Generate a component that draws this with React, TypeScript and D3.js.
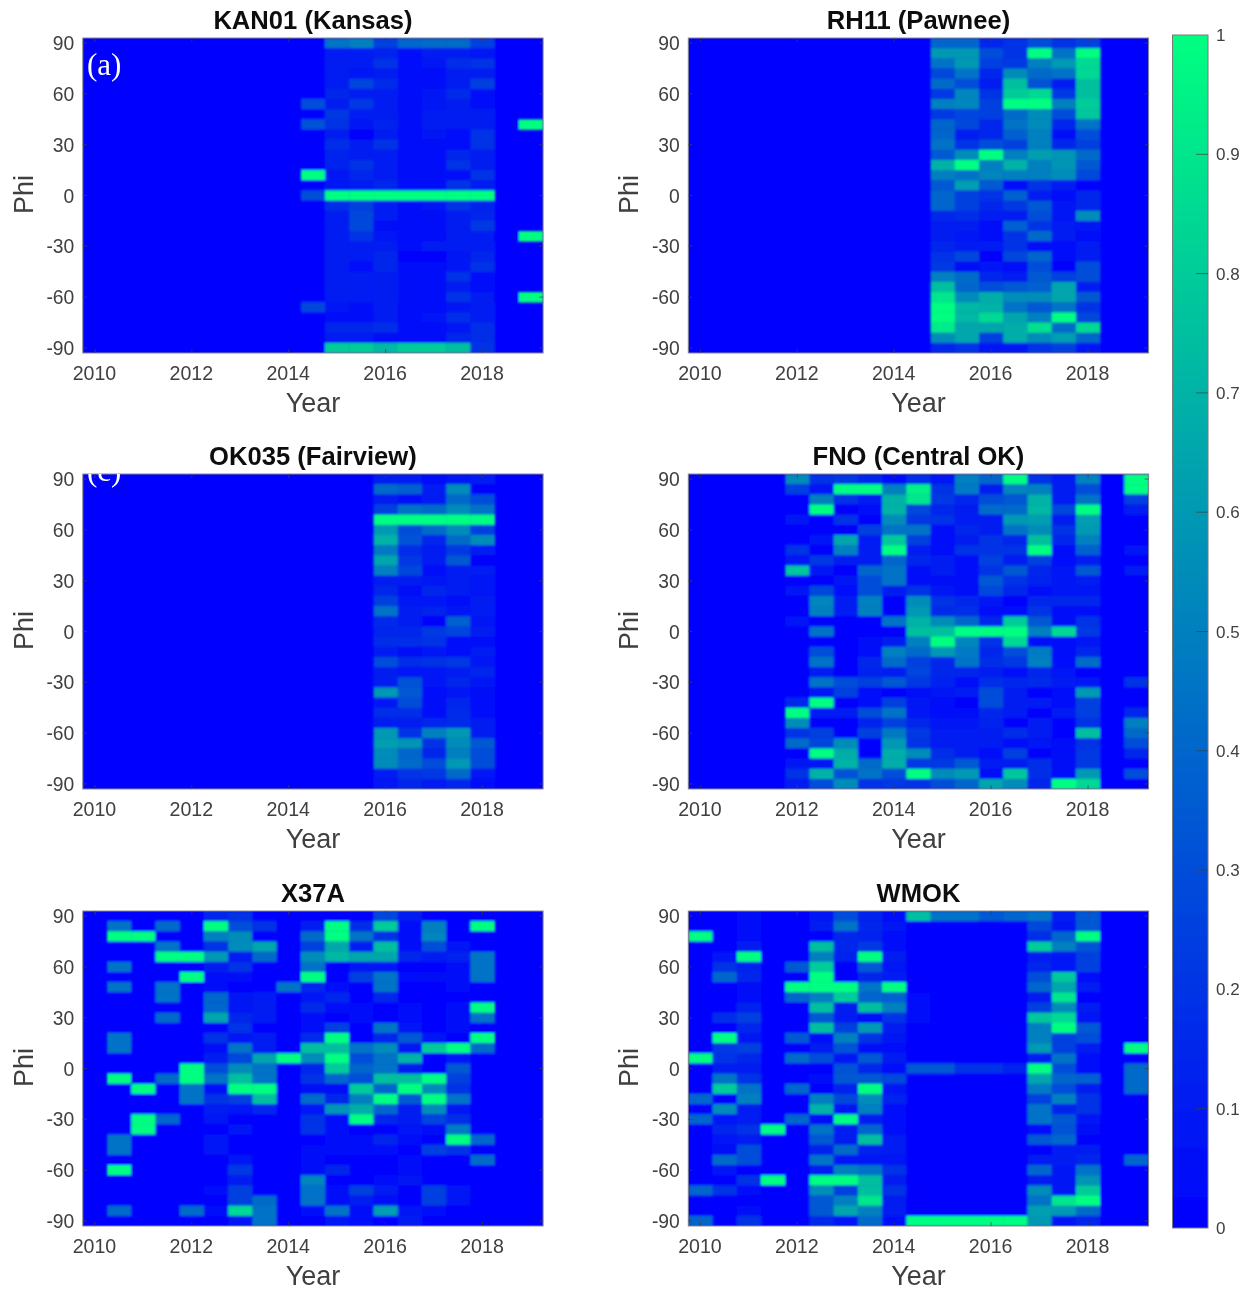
import React from "react";
import * as d3 from "d3";

const yearTicks = [2010, 2012, 2014, 2016, 2018];
const phiTicks = [90, 60, 30, 0, -30, -60, -90];
const barTicks = [0, 0.1, 0.2, 0.3, 0.4, 0.5, 0.6, 0.7, 0.8, 0.9, 1];
const rowPhis = d3.range(31).map((i) => 90 - i * 6);

// every row runs top (phi 90) to bottom (phi -90); values in percent; rows begin at the given year
const kanStart = 2014.5;
const kan01 = [
  [0,45,50,25,40,42,42,25],[0,10,10,13,5,10,10,8],[0,12,10,20,3,8,18,20],[0,10,8,12,3,5,12,12],
  [0,10,27,17,3,5,12,25],[0,15,10,12,5,8,17,5],[30,12,22,10,5,8,12,5],[0,22,10,12,5,10,10,12],
  [32,20,8,13,5,10,12,12,0,100],[0,12,2,12,3,8,3,20],[0,18,12,20,3,6,3,20],[0,13,10,10,3,3,15,10],
  [0,13,20,10,5,5,20,12],[100,8,15,10,5,5,5,20],[0,8,10,15,4,5,20,10],[30,100,100,100,100,100,100,100],
  [0,18,25,10,5,8,20,13],[0,12,28,10,5,6,12,15],[0,10,28,6,3,5,12,22],[0,10,20,8,3,5,10,10,0,100],
  [0,12,12,12,4,10,10,10],[0,12,10,15,2,2,8,15],[0,12,3,15,3,3,8,20],[0,12,10,12,5,3,20,3],
  [0,12,10,12,5,5,10,3],[0,10,10,12,5,3,20,10,0,100],[28,8,5,12,4,3,8,10],[0,5,5,10,3,7,18,10],
  [0,15,15,18,5,5,8,18],[0,10,10,6,3,5,15,18],[0,80,80,72,80,80,75,20],
];

const rhStart = 2015;
const rh11 = [
  [40,40,15,20,30,20,25],[60,60,30,20,100,45,100],[45,60,25,22,50,60,85],[28,45,15,55,42,45,85],
  [42,30,10,75,32,12,75],[22,52,20,80,85,22,75],[50,52,25,100,100,50,80],[22,27,25,42,55,30,78],
  [40,28,15,45,55,15,45],[40,12,15,38,50,5,30],[45,20,30,25,50,15,25],[35,55,100,50,62,58,42],
  [70,100,50,70,50,58,35],[50,45,52,50,50,55,28],[35,62,35,5,20,10,0],[40,25,20,38,12,5,15],
  [40,25,15,22,35,8,15],[15,18,10,12,30,8,55],[12,12,5,38,20,10,8],[12,8,5,20,42,10,5],
  [15,10,10,20,3,3,10],[20,28,2,28,40,5,12],[22,5,7,5,30,0,30],[50,42,15,10,35,25,30],
  [75,40,30,35,38,65,10],[90,55,68,55,55,65,35],[100,72,70,45,35,45,20],[100,72,85,65,50,100,28],
  [92,65,65,68,88,42,85],[55,65,25,68,55,62,40],[15,20,8,8,20,25,7],
];

const okStart = 2016;
const ok035 = [
  [12,10,5,8,10],[42,38,10,55,0],[12,5,10,42,30],[25,45,42,55,45],[100,100,100,100,100],
  [60,30,42,55,25],[70,32,15,42,55],[48,18,10,22,10],[65,22,10,35,2],[50,28,5,12,10],
  [12,12,8,10,7],[15,5,15,10,7],[25,8,8,5,12],[45,12,13,8,10],[17,10,0,38,8],
  [15,15,22,27,12],[18,18,20,3,5],[10,5,8,3,10],[30,18,20,22,8],[12,7,8,12,15],
  [12,32,8,15,8],[60,35,3,8,6],[8,30,6,15,3],[18,18,3,17,4],[12,12,15,17,12],
  [60,20,50,60,12],[62,58,20,55,35],[55,40,15,50,30],[55,42,30,60,30],[10,20,22,42,7],[8,15,10,15,3],
];

const fnoStart = 2012;
const fno = [
  [55,20,22,15,3,18,8,50,40,100,20,10,50,0,100],[25,7,100,100,50,95,20,48,12,52,50,10,30,0,100],
  [0,50,20,10,70,90,22,15,30,35,70,10,45,0,25],[0,100,2,5,70,28,15,12,42,42,72,28,100,0,12],
  [8,0,20,0,55,22,20,10,12,60,62,10,62,0,0],[0,0,2,25,45,45,3,15,12,45,55,20,60,0,0],
  [0,7,65,10,78,25,3,12,20,15,75,15,50,0,0],[20,0,50,10,100,12,5,20,20,20,100,5,38,0,7],
  [8,22,12,12,40,15,10,3,25,10,25,4,10,0,0],[78,8,2,40,45,5,12,4,20,35,15,7,35,0,10],
  [0,0,8,30,45,5,6,5,35,20,13,8,10,0,0],[7,28,3,30,12,20,8,5,28,15,5,7,8,0,0],
  [0,52,10,50,2,55,20,15,8,0,15,15,15,0,0],[0,50,10,50,0,60,17,18,5,3,20,5,5,0,0],
  [7,0,0,0,45,70,55,40,15,80,35,5,20,0,0],[0,45,0,0,2,75,75,100,100,100,50,85,22,0,0],
  [0,0,0,6,10,50,100,52,20,85,5,5,7,0,0],[0,30,0,3,50,42,60,48,15,30,48,3,15,0,0],
  [0,45,0,15,42,25,15,45,18,22,50,3,42,0,0],[0,10,0,13,12,27,15,15,12,5,15,7,0,0,0],
  [0,45,30,25,35,22,13,3,18,15,17,10,8,0,20],[0,8,25,5,2,6,8,10,30,12,0,4,60,0,0],
  [15,100,0,3,25,7,5,2,30,12,10,3,25,0,0],[100,10,10,30,45,8,4,5,15,10,2,10,25,0,15],
  [55,0,0,13,25,15,8,8,13,2,12,0,20,0,50],[20,25,0,25,47,22,10,10,12,18,12,0,75,0,42],
  [42,28,55,0,60,20,10,10,10,6,7,5,20,0,30],[0,100,68,0,68,55,18,12,5,25,2,6,22,0,15],
  [8,8,70,42,68,22,22,35,10,12,18,6,22,0,0],[20,70,32,45,30,100,55,60,5,78,18,5,60,0,30],
  [10,30,55,20,22,20,30,40,65,55,15,100,85,0,0],
];

const x37Start = 2010.5;
const x37a = [
  [0,0,0,0,15,20,0,0,0,0,0,28,12,0,0,0],[45,0,42,0,100,30,20,0,12,100,18,80,5,50,0,100],
  [100,100,0,0,50,55,0,0,42,100,45,20,5,52,0,0],[0,0,45,0,20,55,65,0,25,65,10,75,5,30,8,0],
  [0,0,100,100,60,10,42,0,55,72,65,65,15,10,13,45],[45,0,0,0,12,20,0,0,45,0,8,7,0,0,5,45],
  [0,0,0,100,5,6,0,0,100,0,25,45,3,6,5,45],[45,0,45,0,5,0,0,45,15,5,0,45,0,0,5,0],
  [0,0,45,0,40,8,10,0,7,15,0,15,0,0,0,0],[0,0,0,0,40,8,10,0,17,5,3,0,3,0,5,100],
  [0,0,42,0,65,15,10,0,5,0,4,0,3,0,5,45],[0,0,0,0,0,20,0,0,5,25,0,45,7,0,5,0],
  [45,0,0,0,20,7,10,0,17,100,0,15,35,7,0,100],[45,0,0,0,5,45,10,0,75,75,45,55,8,80,100,42],
  [0,0,0,0,12,28,65,100,55,100,30,45,70,0,7,0],[0,0,0,100,30,55,45,0,15,80,40,45,12,0,35,0],
  [100,0,42,100,45,75,45,0,20,40,30,75,75,100,25,0],[0,100,0,45,5,100,100,0,6,5,80,40,100,55,20,0],
  [0,0,0,45,20,25,75,0,42,15,50,100,35,100,45,0],[0,0,0,0,10,8,15,0,7,58,68,40,12,55,8,0],
  [0,100,40,0,8,0,0,0,20,3,100,15,10,27,18,0],[0,100,0,0,0,8,0,0,20,3,0,0,8,6,48,0],
  [45,0,0,0,7,0,0,0,0,5,4,15,5,0,100,40],[45,0,0,0,7,0,0,0,5,5,4,5,0,25,20,0],
  [0,0,0,0,0,8,0,0,5,0,0,0,4,0,0,42],[100,0,0,0,0,22,0,0,6,15,0,0,6,0,0,0],
  [0,0,0,0,0,10,0,0,52,0,0,4,8,0,0,0],[0,0,0,0,3,25,0,0,45,5,25,10,2,25,7,0],
  [0,0,0,0,0,25,42,0,45,5,10,5,0,25,7,0],[42,0,0,42,5,85,45,0,5,45,5,62,8,5,0,0],
  [0,0,0,0,0,8,45,0,0,7,3,0,10,0,0,0],
];

const wmokStart = 2010;
const wmok = [
  [0,0,5,0,0,8,30,13,5,75,45,45,35,40,45,12,35,0,0],[0,0,5,0,0,12,45,15,8,0,0,0,0,0,28,8,35,0,0],
  [100,0,4,0,0,0,15,13,5,0,0,0,0,0,18,40,100,0,0],[0,0,12,0,0,75,15,22,5,0,0,0,0,0,80,50,32,0,0],
  [0,7,100,0,0,50,13,100,12,0,0,0,0,0,12,7,25,0,0],[0,20,13,0,35,80,0,35,8,0,0,0,0,0,15,7,25,0,0],
  [0,40,15,0,0,100,0,15,10,2,0,0,0,0,30,78,4,0,0],[0,0,5,0,100,100,100,45,100,2,0,0,0,0,40,65,10,0,0],
  [0,0,5,0,40,50,80,40,38,3,0,0,0,0,10,90,0,0,0],[0,0,13,0,0,75,12,75,50,3,0,0,0,0,25,55,10,0,0],
  [0,18,25,0,0,35,10,5,20,3,0,0,2,2,78,85,7,0,0],[0,0,15,0,0,75,25,60,12,2,0,0,0,2,50,100,35,0,0],
  [0,100,8,0,35,5,50,20,8,0,0,0,0,0,50,25,30,0,0],[0,22,25,0,0,12,32,5,5,0,0,0,0,0,60,25,10,0,100],
  [100,20,15,0,42,30,8,35,12,0,0,0,0,0,10,45,3,0,0],[0,12,12,0,0,0,32,15,3,35,35,20,20,13,100,30,3,0,42],
  [0,45,20,0,0,5,35,35,28,0,0,0,0,0,65,40,38,0,42],[0,80,45,0,40,0,13,100,7,0,0,0,0,0,48,30,12,0,42],
  [40,0,50,0,0,50,28,55,13,0,0,0,0,0,25,50,20,0,0],[0,55,12,0,0,70,8,50,3,0,0,0,0,0,45,13,20,0,0],
  [40,7,10,0,40,5,100,12,3,0,0,0,0,0,45,35,7,0,0],[0,15,20,100,0,45,12,40,3,1,0,0,0,0,5,32,6,0,0],
  [0,7,10,0,0,35,12,75,10,1,0,0,0,0,35,40,0,0,0],[0,6,30,0,0,13,42,13,10,0,0,0,1,0,0,10,12,0,0],
  [0,42,30,0,0,45,7,7,7,0,0,0,0,0,10,12,15,0,40],[0,8,0,0,0,12,50,45,20,0,0,0,0,0,40,8,45,0,0],
  [0,0,20,100,0,100,100,75,12,2,0,0,0,0,12,8,58,0,0],[40,20,5,0,0,55,25,75,20,2,0,0,0,0,55,8,80,0,0],
  [0,0,0,0,0,35,50,90,12,2,0,0,0,0,45,90,100,0,0],[0,0,6,0,0,35,65,50,12,0,0,0,0,0,62,60,42,0,0],
  [40,0,20,0,0,17,8,42,3,100,100,100,100,100,60,8,15,0,0],
];

const panels = [
  { id: "a", title: "KAN01 (Kansas)", rows: kan01, start: kanStart, left: 82.8, top: 38 },
  { id: "b", title: "RH11 (Pawnee)", rows: rh11, start: rhStart, left: 688.3, top: 38 },
  { id: "c", title: "OK035 (Fairview)", rows: ok035, start: okStart, left: 82.8, top: 474 },
  { id: "d", title: "FNO (Central OK)", rows: fno, start: fnoStart, left: 688.3, top: 474 },
  { id: "e", title: "X37A", rows: x37a, start: x37Start, left: 82.8, top: 911 },
  { id: "f", title: "WMOK", rows: wmok, start: wmokStart, left: 688.3, top: 911 },
];

const W = 460.3, H = 315;
const FONT = "'Liberation Sans', Arial, sans-serif";
const TICK = "#404040";
const winter = (v: number) => `rgb(0,${Math.round(v * 255)},${Math.round(255 - v * 127.5)})`;
const color = d3.scaleSequential(winter).domain([0, 1]);

function Panel({ p }: { p: (typeof panels)[number] }) {
  const x = d3.scaleLinear().domain([2009.75, 2019.25]).range([0, W]);
  const y = d3.scaleLinear().domain([-93, 93]).range([H, 0]);
  return (
    <g transform={`translate(${p.left},${p.top})`} fontFamily={FONT}>
      <clipPath id={`clip-${p.id}`}><rect width={W} height={H} /></clipPath>
      <rect width={W} height={H} fill={color(0)} />
      <g clipPath={`url(#clip-${p.id})`}>
        <g filter="url(#soft)">
          {p.rows.map((row, r) =>
            row.map((v, c) => {
              const yr = p.start + c * 0.5;
              const phi = rowPhis[r];
              return (
                <rect
                  key={`${r}-${c}`}
                  x={x(yr - 0.25)}
                  y={y(phi + 3)}
                  width={x(yr + 0.25) - x(yr - 0.25) + 0.4}
                  height={y(phi - 3) - y(phi + 3) + 0.4}
                  fill={color(v / 100)}
                />
              );
            })
          )}
        </g>
      </g>
      <rect width={W} height={H} fill="none" stroke="#8a8a8a" strokeWidth={1} />
      {yearTicks.map((t) => (
        <g key={t}>
          <line x1={x(t)} x2={x(t)} y1={H} y2={H - 4} stroke={TICK} strokeOpacity={0.7} />
          <line x1={x(t)} x2={x(t)} y1={0} y2={4} stroke={TICK} strokeOpacity={0.7} />
          <text x={x(t) - 0.5} y={H + 27} textAnchor="middle" fontSize={19.6} fill={TICK}>{t}</text>
        </g>
      ))}
      {phiTicks.map((t) => (
        <g key={t}>
          <line x1={0} x2={4} y1={y(t)} y2={y(t)} stroke={TICK} strokeOpacity={0.7} />
          <line x1={W} x2={W - 4} y1={y(t)} y2={y(t)} stroke={TICK} strokeOpacity={0.7} />
          <text x={-8.5} y={y(t) + 7} textAnchor="end" fontSize={19.3} fill={TICK}>{t}</text>
        </g>
      ))}
      <text x={W / 2} y={-9} textAnchor="middle" fontSize={25.6} fontWeight="bold" fill="#111">{p.title}</text>
      <text x={W / 2} y={H + 59} textAnchor="middle" fontSize={27} fill={TICK}>Year</text>
      <text transform={`translate(-50,${H / 2 - 1}) rotate(-90)`} textAnchor="middle" fontSize={27} fill={TICK}>Phi</text>
    </g>
  );
}

function ColorBar() {
  const left = 1172.5, width = 35.5, top = 35, height = 1193;
  const s = d3.scaleLinear().domain([0, 1]).range([top + height, top]);
  return (
    <g fontFamily={FONT}>
      <defs>
        <linearGradient id="winterBar" x1="0" y1="1" x2="0" y2="0">
          {d3.range(0, 1.01, 0.1).map((v) => (
            <stop key={v} offset={v} stopColor={color(v)} />
          ))}
        </linearGradient>
      </defs>
      <rect x={left} y={top} width={width} height={height} fill="url(#winterBar)" stroke="#7a7a7a" />
      {barTicks.map((t) => (
        <g key={t}>
          {t > 0 && t < 1 && <line x1={left + width - 12} x2={left + width} y1={s(t)} y2={s(t)} stroke={TICK} strokeOpacity={0.7} />}
          <text x={left + width + 8} y={s(t) + 6} fontSize={17} fill={TICK}>{t}</text>
        </g>
      ))}
    </g>
  );
}

export default function App() {
  return (
    <svg width={1252} height={1291} style={{ position: "absolute", left: 0, top: 0, background: "#fff" }}>
      <defs>
        <filter id="soft" x="-2%" y="-2%" width="104%" height="104%">
          <feGaussianBlur stdDeviation="0.9" />
        </filter>
        <filter id="page" filterUnits="userSpaceOnUse" x={0} y={0} width={1252} height={1291}>
          <feGaussianBlur stdDeviation="0.4" />
        </filter>
        <clipPath id="clipLabelC"><rect x={83} y={474} width={100} height={60} /></clipPath>
      </defs>
      <g filter="url(#page)">
        <rect width={1252} height={1291} fill="#fff" />
        {panels.map((p) => <Panel key={p.title} p={p} />)}
        <ColorBar />
        <text x={87} y={74.5} fontFamily="'Liberation Serif', serif" fontSize={31} fill="#fff">(a)</text>
        <g clipPath="url(#clipLabelC)">
          <text x={87} y={480.5} fontFamily="'Liberation Serif', serif" fontSize={31} fill="#fff">(c)</text>
        </g>
      </g>
    </svg>
  );
}
